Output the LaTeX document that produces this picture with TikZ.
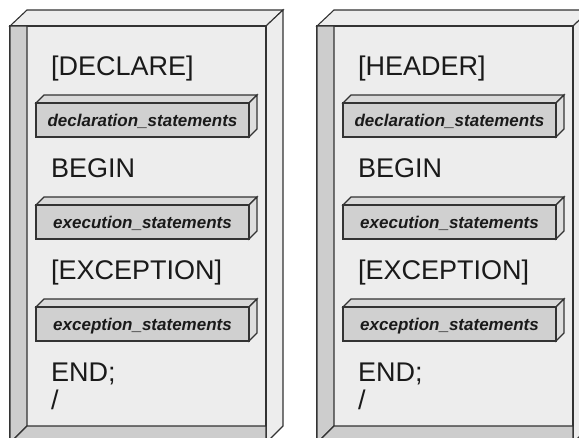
\documentclass[tikz,border=0pt]{standalone}
\usepackage{fontspec}
\setmainfont{Liberation Sans}
\definecolor{panel}{HTML}{EDEDED}
\definecolor{strip}{HTML}{CDCDCD}
\definecolor{slabfront}{HTML}{D0D0D0}
\definecolor{slabtop}{HTML}{D9D9D9}
\definecolor{slabside}{HTML}{DEDEDE}
\definecolor{edge}{HTML}{333333}
\definecolor{ink}{HTML}{1A1A1A}
\begin{document}
\begin{tikzpicture}[x=1pt,y=-1pt,line join=miter,
  edgeline/.style={draw=edge,line width=1.1pt},
  kw/.style={anchor=base west,inner sep=0pt,font=\fontsize{27}{30}\selectfont,text=ink},
  stmt/.style={anchor=base,inner sep=0pt,font=\fontsize{17}{19}\selectfont\bfseries\itshape,text=ink}]
\useasboundingbox (0,0) rectangle (579,437);
\clip (0,0) rectangle (579,437);
\foreach \ox/\head/\id in {0/[DECLARE]/a,307/[HEADER]/b}{
  \begin{scope}[shift={(\ox,0)}]
    % outer box
    \path[edgeline,fill=panel] (10,26) -- (27,10) -- (283,10) -- (266,26) -- cycle;
    \path[edgeline,fill=panel] (266,26) -- (283,10) -- (283,426) -- (266,443) -- cycle;
    \path[edgeline,fill=panel] (10,26) rectangle (266,443);
    \path[edgeline,fill=strip] (10,26) -- (27,26) -- (27,426) -- (10,443) -- cycle;
    \path[edgeline,fill=strip] (27,426) -- (266,426) -- (266,443) -- (10,443) -- cycle;
    % inner slabs
    \foreach \yo/\txt/\sid in {103/declaration\_statements/d,205/execution\_statements/x,307/exception\_statements/e}{
      \path[edgeline,fill=slabtop] (36,\yo) -- (44,\yo-8) -- (257,\yo-8) -- (249,\yo) -- cycle;
      \path[edgeline,fill=slabside] (249,\yo) -- (257,\yo-8) -- (257,\yo+26) -- (249,\yo+34) -- cycle;
      \path[edgeline,fill=slabfront] (36,\yo) rectangle (249,\yo+34);
      \node[stmt] (\id-\sid) at (142.5,\yo+23) {\txt};
    }
    \node[kw] (\id-head) at (51,75) {\head};
    \node[kw] (\id-begin) at (51,177) {BEGIN};
    \node[kw] (\id-exc) at (51,279) {[EXCEPTION]};
    \node[kw] (\id-end) at (51,381) {END;};
    \node[kw] (\id-slash) at (51,409) {/};
  \end{scope}
}
\end{tikzpicture}
\end{document}
